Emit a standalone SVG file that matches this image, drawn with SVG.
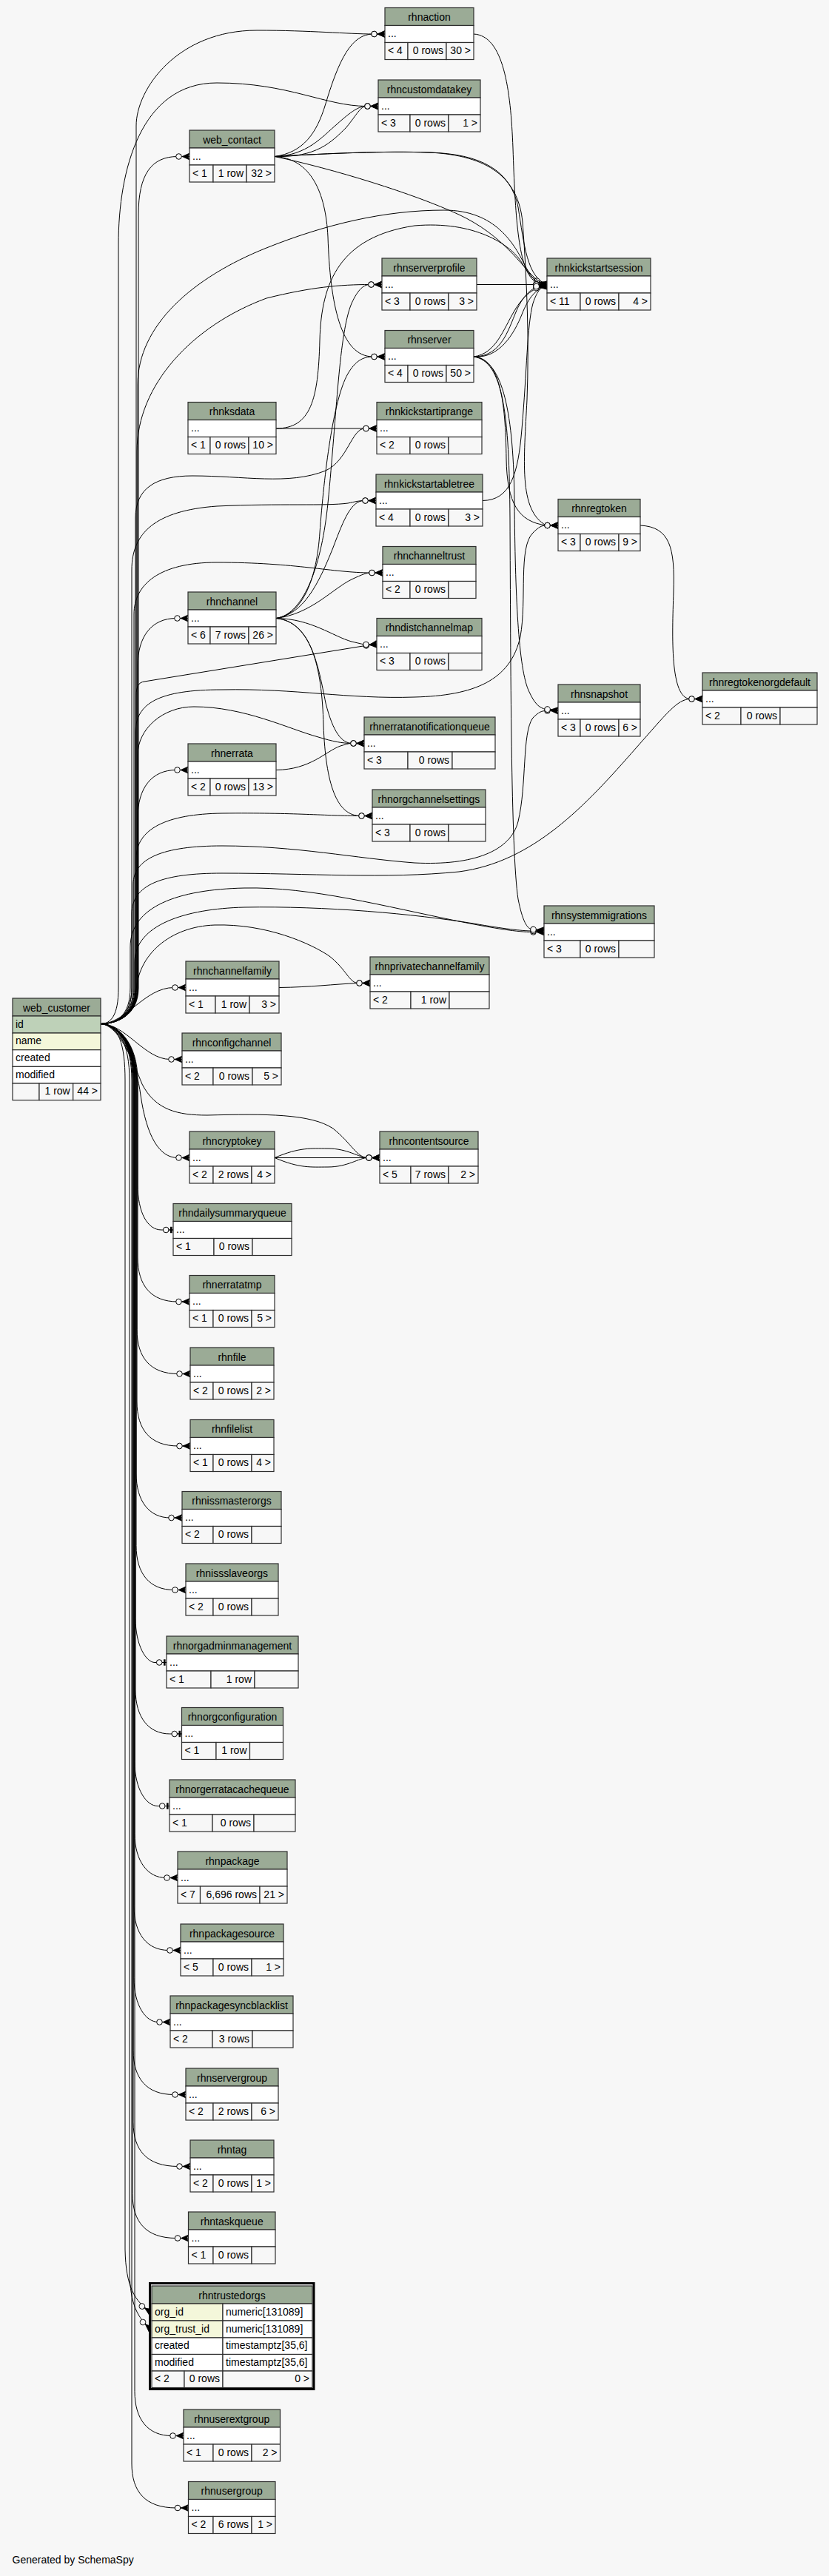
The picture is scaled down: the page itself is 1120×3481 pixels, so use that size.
<svg xmlns="http://www.w3.org/2000/svg" width="1120" height="3481" viewBox="0 0 1120 3481">
<style>
.hd{fill:#9bab96;stroke:#2e2e2e;stroke-width:1.2}
.rw{fill:#ffffff;stroke:#2e2e2e;stroke-width:1.2}
.ft{fill:#f7f7f7;stroke:#2e2e2e;stroke-width:1.2}
.pk{fill:#bed1b8;stroke:#2e2e2e;stroke-width:1.2}
.ix{fill:#f4f7da;stroke:#2e2e2e;stroke-width:1.2}
text{font-family:"Liberation Sans",Arial,Helvetica,sans-serif;font-size:14px;fill:#000}
.c{text-anchor:middle}
.e{text-anchor:end}
#connectors path{fill:none;stroke:#000;stroke-width:1}
#connectors path.co{marker-end:url(#crowodot)}
#connectors path.to{marker-end:url(#teeodot)}
</style>
<defs>
<marker id="crowodot" markerUnits="userSpaceOnUse" markerWidth="22" markerHeight="12" viewBox="0 0 22 12" refX="20" refY="6" orient="auto" overflow="visible">
<path d="M10,6 L20,1.6 L18,6 L20,10.4 Z" fill="#000" stroke="#000" stroke-width="0.8"/>
<path d="M10,6 L20,6" stroke="#000" stroke-width="1"/>
<circle cx="5.5" cy="6" r="3.8" fill="#f7f7f7" stroke="#000" stroke-width="1"/>
</marker>
<marker id="teeodot" markerUnits="userSpaceOnUse" markerWidth="22" markerHeight="12" viewBox="0 0 22 12" refX="20" refY="6" orient="auto" overflow="visible">
<path d="M14,6 L20,6" stroke="#000" stroke-width="1"/>
<rect x="16" y="1.8" width="2.6" height="8.4" fill="#000"/>
<circle cx="10.2" cy="6" r="3.8" fill="#f7f7f7" stroke="#000" stroke-width="1"/>
</marker>
</defs>
<rect x="0" y="0" width="1120" height="3481" fill="#f7f7f7"/>

<g id="connectors">
<!-- web_customer upward -->
<path class="co" d="M136,1383.5 C158,1383.5 184,1372 184,1335 L184,170 C184,120 240,41 347,41 C420,41 470,46 504,46 L520,46"/>
<path class="co" d="M136,1383.5 C150,1383.5 160,1372 160,1335 L160,330 C160,230 190,112 293,112 C390,112 440,143.5 495,143.5 L511,143.5"/>
<path class="co" d="M136,1383.5 C158,1383.5 187,1372 187,1335 L187,290 C187,235 205,211.5 240,211.5 L256,211.5"/>
<path class="co" d="M136,1383.5 C158,1383.5 186,1372 186,1335 L186,520 C186,440 260,375 360,335 C440,303 520,284 600,284 C670,284 695,330 710,360 C718,375 725,384.5 739,384.5"/>
<path class="co" d="M136,1383.5 C158,1383.5 185,1372 185,1335 L185,610 C185,520 260,440 360,403 C420,388 460,384.5 500,384.5 L516,384.5"/>
<path class="co" d="M136,1383.5 C158,1383.5 183,1372 183,1335 L183,700 C183,660 210,643 260,643 C330,643 390,656 440,636 C470,622 475,579 493,579 L509,579"/>
<path class="co" d="M136,1383.5 C158,1383.5 178,1372 178,1335 L178,770 C178,720 210,690 293,684 C380,680 440,684 470,680 C480,678 485,676.5 492,676.5 L508,676.5"/>
<path class="co" d="M136,1383.5 C158,1383.5 181,1372 181,1335 L181,830 C181,790 215,760 293,760 C400,760 450,774 501,774 L517,774"/>
<path class="co" d="M136,1383.5 C158,1383.5 186,1372 186,1335 L186,900 C186,860 205,835.5 238,835.5 L254,835.5"/>
<path class="co" d="M136,1383.5 C158,1383.5 184,1372 184,1335 L184,940 C184,928 187,922 195,921 L509,870"/>
<path class="co" d="M136,1383.5 C158,1383.5 183,1372 183,1335 L183,990 C183,950 215,932 300,932 C400,930 470,945 560,942 C640,940 690,920 703,860 C712,810 700,740 720,720 C728,712 732,710 738,710 L754,710"/>
<path class="co" d="M136,1383.5 C158,1383.5 186,1372 186,1335 L186,1020 C186,985 220,955 262,955 C330,955 390,985 430,996 C450,1002 462,1004.5 476,1004.5 L492,1004.5"/>
<path class="co" d="M136,1383.5 C158,1383.5 186,1372 186,1335 L186,1105 C186,1065 205,1040.5 238,1040.5 L254,1040.5"/>
<path class="co" d="M136,1383.5 C158,1383.5 184,1372 184,1335 L184,1160 C184,1120 225,1100 300,1099 C400,1098 440,1102.5 487,1102.5 L503,1102.5"/>
<path class="co" d="M136,1383.5 C158,1383.5 180,1372 180,1335 L180,1195 C180,1160 220,1143 300,1143 C400,1143 480,1160 560,1166 C640,1170 690,1150 700,1110 C712,1060 705,990 720,970 C728,962 732,960.5 738,960.5 L754,960.5"/>
<path class="co" d="M136,1383.5 C158,1383.5 178,1372 178,1335 L178,1235 C178,1195 220,1180 300,1180 C420,1180 520,1188 620,1178 C720,1165 790,1090 860,1010 C900,965 915,944.5 933,944.5 L949,944.5"/>
<path class="co" d="M136,1383.5 C158,1383.5 176,1372 176,1335 L176,1280 C176,1225 240,1202 330,1200 C420,1198 520,1225 620,1245 C670,1255 700,1259.5 719,1259.5 L735,1259.5"/>
<path class="co" d="M136,1383.5 C158,1383.5 182,1372 182,1335 L182,1300 C182,1250 250,1228 330,1226 C440,1224 560,1235 640,1248 C680,1255 705,1258 719,1258 L735,1258"/>
<path class="co" d="M136,1383.5 C158,1383.5 184,1372 184,1340 C186,1290 230,1252 290,1250 C360,1248 420,1275 445,1292 C468,1310 472,1328.5 484,1328.5 L500,1328.5"/>
<path class="co" d="M136,1383.5 C170,1383.5 195,1334.5 235,1334.5 L251,1334.5"/>
<path class="co" d="M136,1383.5 C170,1383.5 195,1431.5 230,1431.5 L246,1431.5"/>
<path class="co" d="M136,1383.5 C165,1385 185,1440 190,1480 C198,1535 215,1564.5 240,1564.5 L256,1564.5"/>
<path class="co" d="M136,1383.5 C160,1385 178,1430 192,1465 C210,1500 240,1507 280,1507 C360,1505 420,1505 450,1525 C475,1545 482,1564.5 497,1564.5 L513,1564.5"/>
<path class="to" d="M136,1383.5 C160,1385 186,1420 186,1480 L186,1600 C186,1640 200,1662 218,1662 L234,1662"/>
<!-- web_customer downward -->
<path class="co" d="M136,1383.5 C160,1384 186,1410 186,1460 L186,1699 C186,1737 204,1759 240,1759 L256,1759"/>
<path class="co" d="M136,1383.5 C160,1384 185,1410 185,1460 L185,1796.5 C185,1834.5 203,1856.5 241,1856.5 L257,1856.5"/>
<path class="co" d="M136,1383.5 C160,1384 185,1410 185,1460 L185,1894 C185,1932 203,1954 241,1954 L257,1954"/>
<path class="co" d="M136,1383.5 C160,1384 184,1410 184,1460 L184,1991 C184,2029 202,2051 230,2051 L246,2051"/>
<path class="co" d="M136,1383.5 C160,1384 184,1410 184,1460 L184,2088.5 C184,2126.5 202,2148.5 235,2148.5 L251,2148.5"/>
<path class="to" d="M136,1383.5 C160,1384 183,1410 183,1460 L183,2186.5 C183,2224.5 198,2246.5 209,2246.5 L225,2246.5"/>
<path class="to" d="M136,1383.5 C160,1384 183,1410 183,1460 L183,2283 C183,2321 201,2343 229.5,2343 L245.5,2343"/>
<path class="to" d="M136,1383.5 C160,1384 182,1410 182,1460 L182,2380.5 C182,2418.5 198,2440.5 213,2440.5 L229,2440.5"/>
<path class="co" d="M136,1383.5 C160,1384 182,1410 182,1460 L182,2477.5 C182,2515.5 200,2537.5 224,2537.5 L240,2537.5"/>
<path class="co" d="M136,1383.5 C160,1384 181,1410 181,1460 L181,2575.5 C181,2613.5 199,2635.5 228,2635.5 L244,2635.5"/>
<path class="co" d="M136,1383.5 C160,1384 181,1410 181,1460 L181,2672.5 C181,2710.5 197,2732.5 214,2732.5 L230,2732.5"/>
<path class="co" d="M136,1383.5 C160,1384 180,1410 180,1460 L180,2770.5 C180,2808.5 198,2830.5 235,2830.5 L251,2830.5"/>
<path class="co" d="M136,1383.5 C160,1384 180,1410 180,1460 L180,2867.5 C180,2905.5 198,2927.5 241,2927.5 L257,2927.5"/>
<path class="co" d="M136,1383.5 C160,1384 179,1410 179,1460 L179,2964.5 C179,3002.5 197,3024.5 238.5,3024.5 L254.5,3024.5"/>
<path class="co" d="M136,1383.5 C160,1384 169,1410 169,1460 L169,3040 C170,3090 182,3110 204,3124.5"/>
<path class="co" d="M136,1383.5 C160,1384 175,1410 175,1460 L175,3070 C176,3115 186,3132 204,3147.5"/>
<path class="co" d="M136,1383.5 C160,1384 182,1410 182,1460 L182,3231.5 C182,3269.5 200,3291.5 232,3291.5 L248,3291.5"/>
<path class="co" d="M136,1383.5 C160,1384 178,1410 178,1460 L178,3329 C178,3367 196,3389 238.5,3389 L254.5,3389"/>
<!-- web_contact -->
<path class="co" d="M371,211.5 C410,206 428,180 440,140 C458,80 475,46 504,46 L520,46"/>
<path class="co" d="M371,211.5 C415,210 435,185 455,168 C475,150 485,143.5 495,143.5 L511,143.5"/>
<path class="co" d="M371,211.5 C428,213 448,192 468,172 C482,155 487,143.5 495,143.5 L511,143.5"/>
<path class="co" d="M371,211.5 C450,207 520,204 580,206 C650,208 690,230 700,280 C708,330 712,375 739,384.5"/>
<path class="co" d="M371,211.5 C450,207 520,204 580,206 C660,210 700,240 706,300 C712,380 715,460 712,540 C708,620 700,690 738,710 L754,710"/>
<path class="co" d="M371,211.5 C450,228 560,262 620,290 C680,318 705,360 723,376 C730,382 735,384.5 739,384.5"/>
<path class="co" d="M371,211.5 C420,214 440,260 443,320 C446,410 460,482 504,482 L520,482"/>
<!-- rhnaction, rhnserverprofile, rhnserver -->
<path class="co" d="M640,46 C680,48 690,120 693,200 C696,290 700,360 720,378 C728,383 733,384.5 739,384.5"/>
<path class="co" d="M644,384.5 L739,384.5"/>
<path class="co" d="M640,482 C680,482 688,440 700,415 C710,395 722,386 739,384.5"/>
<path class="co" d="M640,482 C670,478 680,445 695,420 C708,398 722,388 739,386"/>
<path class="co" d="M640,482 C675,485 695,450 705,425 C714,402 725,389 739,387"/>
<path class="co" d="M640,482 C675,484 683,540 684,620 C685,680 700,705 738,710 L754,710"/>
<path class="co" d="M640,482 C680,486 694,560 695,680 C696,800 700,905 715,935 C722,950 728,957 738,958.5 L754,960"/>
<path class="co" d="M640,482 C680,488 688,560 689,700 C690,900 690,1150 700,1215 C706,1245 712,1255 719,1256 L735,1257"/>
<!-- rhnksdata, abletree -->
<path class="co" d="M373,579 L509,579"/>
<path class="co" d="M373,579 C420,579 430,540 432,460 C434,380 460,320 560,305 C640,298 690,330 705,355 C715,372 725,384.5 739,384.5"/>
<path class="co" d="M652,676.5 C690,676 700,640 705,580 C712,500 712,440 720,410 C726,392 732,386 739,385"/>
<!-- rhnchannel -->
<path class="co" d="M373,835.5 C410,830 430,790 450,740 C465,700 475,676.5 492,676.5 L508,676.5"/>
<path class="co" d="M373,835.5 C420,830 450,795 475,783 C490,776 495,774 501,774 L517,774"/>
<path class="co" d="M373,835.5 C420,836 450,860 475,867 C488,870 492,871 493,871 L509,871"/>
<path class="co" d="M373,835.5 C420,840 430,900 440,950 C450,990 462,1004.5 476,1004.5 L492,1004.5"/>
<path class="co" d="M373,835.5 C420,840 435,900 437,980 C440,1060 455,1102.5 487,1102.5 L503,1102.5"/>
<path class="co" d="M373,835.5 C410,830 428,780 432,720 C438,640 450,540 470,505 C480,488 490,482 504,482 L520,482"/>
<path class="co" d="M373,835.5 C412,830 435,760 443,680 C455,560 458,450 475,410 C484,390 492,384.5 500,384.5 L516,384.5"/>
<!-- others -->
<path class="co" d="M373,1040.5 C420,1040 440,1015 460,1008 C470,1005 472,1004.5 476,1004.5 L492,1004.5"/>
<path class="co" d="M865,710 C905,712 912,740 910,800 C908,860 905,944.5 933,944.5 L949,944.5"/>
<path class="co" d="M377,1334.5 C420,1334 450,1330 484,1328.5 L500,1328.5"/>
<path class="co" d="M371,1564.5 L513,1564.5"/>
<path class="co" d="M371,1564.5 C405,1550 420,1552 443,1552 C470,1552 485,1564.5 497,1564.5 L513,1564.5"/>
<path class="co" d="M371,1564.5 C405,1579 420,1577 443,1577 C470,1577 485,1564.5 497,1564.5 L513,1564.5"/>
</g>

<g id="rhnaction"><rect class="hd" x="520" y="10.5" width="120" height="24"/><rect class="rw" x="520" y="34.5" width="120" height="23"/><rect class="ft" x="520" y="57.5" width="31" height="23"/><rect class="ft" x="551" y="57.5" width="52" height="23"/><rect class="ft" x="603" y="57.5" width="37" height="23"/><text class="c" x="580" y="28">rhnaction</text><text x="524" y="50">...</text><text x="524" y="73">&lt; 4</text><text class="e" x="599" y="73">0 rows</text><text class="e" x="636" y="73">30 &gt;</text></g>

<g id="rhncustomdatakey"><rect class="hd" x="511" y="108" width="138" height="24"/><rect class="rw" x="511" y="132" width="138" height="23"/><rect class="ft" x="511" y="155" width="43" height="23"/><rect class="ft" x="554" y="155" width="52" height="23"/><rect class="ft" x="606" y="155" width="43" height="23"/><text class="c" x="580" y="125.5">rhncustomdatakey</text><text x="515" y="147.5">...</text><text x="515" y="170.5">&lt; 3</text><text class="e" x="602" y="170.5">0 rows</text><text class="e" x="645" y="170.5">1 &gt;</text></g>

<g id="web_contact"><rect class="hd" x="256" y="176" width="115" height="24"/><rect class="rw" x="256" y="200" width="115" height="23"/><rect class="ft" x="256" y="223" width="32" height="23"/><rect class="ft" x="288" y="223" width="45" height="23"/><rect class="ft" x="333" y="223" width="38" height="23"/><text class="c" x="313.5" y="193.5">web_contact</text><text x="260" y="215.5">...</text><text x="260" y="238.5">&lt; 1</text><text class="e" x="329" y="238.5">1 row</text><text class="e" x="367" y="238.5">32 &gt;</text></g>

<g id="rhnserverprofile"><rect class="hd" x="516" y="349" width="128" height="24"/><rect class="rw" x="516" y="373" width="128" height="23"/><rect class="ft" x="516" y="396" width="38" height="23"/><rect class="ft" x="554" y="396" width="52" height="23"/><rect class="ft" x="606" y="396" width="38" height="23"/><text class="c" x="580" y="366.5">rhnserverprofile</text><text x="520" y="388.5">...</text><text x="520" y="411.5">&lt; 3</text><text class="e" x="602" y="411.5">0 rows</text><text class="e" x="640" y="411.5">3 &gt;</text></g>

<g id="rhnkickstartsession"><rect class="hd" x="739" y="349" width="140" height="24"/><rect class="rw" x="739" y="373" width="140" height="23"/><rect class="ft" x="739" y="396" width="45" height="23"/><rect class="ft" x="784" y="396" width="52" height="23"/><rect class="ft" x="836" y="396" width="43" height="23"/><text class="c" x="809" y="366.5">rhnkickstartsession</text><text x="743" y="388.5">...</text><text x="743" y="411.5">&lt; 11</text><text class="e" x="832" y="411.5">0 rows</text><text class="e" x="875" y="411.5">4 &gt;</text></g>

<g id="rhnserver"><rect class="hd" x="520" y="446.5" width="120" height="24"/><rect class="rw" x="520" y="470.5" width="120" height="23"/><rect class="ft" x="520" y="493.5" width="31" height="23"/><rect class="ft" x="551" y="493.5" width="52" height="23"/><rect class="ft" x="603" y="493.5" width="37" height="23"/><text class="c" x="580" y="464">rhnserver</text><text x="524" y="486">...</text><text x="524" y="509">&lt; 4</text><text class="e" x="599" y="509">0 rows</text><text class="e" x="636" y="509">50 &gt;</text></g>

<g id="rhnksdata"><rect class="hd" x="254" y="543.5" width="119" height="24"/><rect class="rw" x="254" y="567.5" width="119" height="23"/><rect class="ft" x="254" y="590.5" width="30" height="23"/><rect class="ft" x="284" y="590.5" width="52" height="23"/><rect class="ft" x="336" y="590.5" width="37" height="23"/><text class="c" x="313.5" y="561">rhnksdata</text><text x="258" y="583">...</text><text x="258" y="606">&lt; 1</text><text class="e" x="332" y="606">0 rows</text><text class="e" x="369" y="606">10 &gt;</text></g>

<g id="rhnkickstartiprange"><rect class="hd" x="509" y="543.5" width="142" height="24"/><rect class="rw" x="509" y="567.5" width="142" height="23"/><rect class="ft" x="509" y="590.5" width="45" height="23"/><rect class="ft" x="554" y="590.5" width="52" height="23"/><rect class="ft" x="606" y="590.5" width="45" height="23"/><text class="c" x="580" y="561">rhnkickstartiprange</text><text x="513" y="583">...</text><text x="513" y="606">&lt; 2</text><text class="e" x="602" y="606">0 rows</text></g>

<g id="rhnkickstartabletree"><rect class="hd" x="508" y="641" width="144" height="24"/><rect class="rw" x="508" y="665" width="144" height="23"/><rect class="ft" x="508" y="688" width="46" height="23"/><rect class="ft" x="554" y="688" width="52" height="23"/><rect class="ft" x="606" y="688" width="46" height="23"/><text class="c" x="580" y="658.5">rhnkickstartabletree</text><text x="512" y="680.5">...</text><text x="512" y="703.5">&lt; 4</text><text class="e" x="602" y="703.5">0 rows</text><text class="e" x="648" y="703.5">3 &gt;</text></g>

<g id="rhnregtoken"><rect class="hd" x="754" y="674.5" width="111" height="24"/><rect class="rw" x="754" y="698.5" width="111" height="23"/><rect class="ft" x="754" y="721.5" width="30" height="23"/><rect class="ft" x="784" y="721.5" width="52" height="23"/><rect class="ft" x="836" y="721.5" width="29" height="23"/><text class="c" x="809.5" y="692">rhnregtoken</text><text x="758" y="714">...</text><text x="758" y="737">&lt; 3</text><text class="e" x="832" y="737">0 rows</text><text class="e" x="861" y="737">9 &gt;</text></g>

<g id="rhnchanneltrust"><rect class="hd" x="517" y="738.5" width="126" height="24"/><rect class="rw" x="517" y="762.5" width="126" height="23"/><rect class="ft" x="517" y="785.5" width="37" height="23"/><rect class="ft" x="554" y="785.5" width="52" height="23"/><rect class="ft" x="606" y="785.5" width="37" height="23"/><text class="c" x="580" y="756">rhnchanneltrust</text><text x="521" y="778">...</text><text x="521" y="801">&lt; 2</text><text class="e" x="602" y="801">0 rows</text></g>

<g id="rhnchannel"><rect class="hd" x="254" y="800" width="119" height="24"/><rect class="rw" x="254" y="824" width="119" height="23"/><rect class="ft" x="254" y="847" width="30" height="23"/><rect class="ft" x="284" y="847" width="52" height="23"/><rect class="ft" x="336" y="847" width="37" height="23"/><text class="c" x="313.5" y="817.5">rhnchannel</text><text x="258" y="839.5">...</text><text x="258" y="862.5">&lt; 6</text><text class="e" x="332" y="862.5">7 rows</text><text class="e" x="369" y="862.5">26 &gt;</text></g>

<g id="rhndistchannelmap"><rect class="hd" x="509" y="835.5" width="142" height="24"/><rect class="rw" x="509" y="859.5" width="142" height="23"/><rect class="ft" x="509" y="882.5" width="45" height="23"/><rect class="ft" x="554" y="882.5" width="52" height="23"/><rect class="ft" x="606" y="882.5" width="45" height="23"/><text class="c" x="580" y="853">rhndistchannelmap</text><text x="513" y="875">...</text><text x="513" y="898">&lt; 3</text><text class="e" x="602" y="898">0 rows</text></g>

<g id="rhnregtokenorgdefault"><rect class="hd" x="949" y="909" width="155" height="24"/><rect class="rw" x="949" y="933" width="155" height="23"/><rect class="ft" x="949" y="956" width="52" height="23"/><rect class="ft" x="1001" y="956" width="53" height="23"/><rect class="ft" x="1054" y="956" width="50" height="23"/><text class="c" x="1026.5" y="926.5">rhnregtokenorgdefault</text><text x="953" y="948.5">...</text><text x="953" y="971.5">&lt; 2</text><text class="e" x="1050" y="971.5">0 rows</text></g>

<g id="rhnsnapshot"><rect class="hd" x="754" y="925" width="111" height="24"/><rect class="rw" x="754" y="949" width="111" height="23"/><rect class="ft" x="754" y="972" width="30" height="23"/><rect class="ft" x="784" y="972" width="52" height="23"/><rect class="ft" x="836" y="972" width="29" height="23"/><text class="c" x="809.5" y="942.5">rhnsnapshot</text><text x="758" y="964.5">...</text><text x="758" y="987.5">&lt; 3</text><text class="e" x="832" y="987.5">0 rows</text><text class="e" x="861" y="987.5">6 &gt;</text></g>

<g id="rhnerratanotificationqueue"><rect class="hd" x="492" y="969" width="177" height="24"/><rect class="rw" x="492" y="993" width="177" height="23"/><rect class="ft" x="492" y="1016" width="59" height="23"/><rect class="ft" x="551" y="1016" width="60" height="23"/><rect class="ft" x="611" y="1016" width="58" height="23"/><text class="c" x="580.5" y="986.5">rhnerratanotificationqueue</text><text x="496" y="1008.5">...</text><text x="496" y="1031.5">&lt; 3</text><text class="e" x="607" y="1031.5">0 rows</text></g>

<g id="rhnerrata"><rect class="hd" x="254" y="1005" width="119" height="24"/><rect class="rw" x="254" y="1029" width="119" height="23"/><rect class="ft" x="254" y="1052" width="30" height="23"/><rect class="ft" x="284" y="1052" width="52" height="23"/><rect class="ft" x="336" y="1052" width="37" height="23"/><text class="c" x="313.5" y="1022.5">rhnerrata</text><text x="258" y="1044.5">...</text><text x="258" y="1067.5">&lt; 2</text><text class="e" x="332" y="1067.5">0 rows</text><text class="e" x="369" y="1067.5">13 &gt;</text></g>

<g id="rhnorgchannelsettings"><rect class="hd" x="503" y="1067" width="153" height="24"/><rect class="rw" x="503" y="1091" width="153" height="23"/><rect class="ft" x="503" y="1114" width="51" height="23"/><rect class="ft" x="554" y="1114" width="52" height="23"/><rect class="ft" x="606" y="1114" width="50" height="23"/><text class="c" x="579.5" y="1084.5">rhnorgchannelsettings</text><text x="507" y="1106.5">...</text><text x="507" y="1129.5">&lt; 3</text><text class="e" x="602" y="1129.5">0 rows</text></g>

<g id="rhnsystemmigrations"><rect class="hd" x="735" y="1224" width="149" height="24"/><rect class="rw" x="735" y="1248" width="149" height="23"/><rect class="ft" x="735" y="1271" width="49" height="23"/><rect class="ft" x="784" y="1271" width="52" height="23"/><rect class="ft" x="836" y="1271" width="48" height="23"/><text class="c" x="809.5" y="1241.5">rhnsystemmigrations</text><text x="739" y="1263.5">...</text><text x="739" y="1286.5">&lt; 3</text><text class="e" x="832" y="1286.5">0 rows</text></g>

<g id="rhnchannelfamily"><rect class="hd" x="251" y="1299" width="126" height="24"/><rect class="rw" x="251" y="1323" width="126" height="23"/><rect class="ft" x="251" y="1346" width="40" height="23"/><rect class="ft" x="291" y="1346" width="46" height="23"/><rect class="ft" x="337" y="1346" width="40" height="23"/><text class="c" x="314" y="1316.5">rhnchannelfamily</text><text x="255" y="1338.5">...</text><text x="255" y="1361.5">&lt; 1</text><text class="e" x="333" y="1361.5">1 row</text><text class="e" x="373" y="1361.5">3 &gt;</text></g>

<g id="rhnprivatechannelfamily"><rect class="hd" x="500" y="1293" width="161" height="24"/><rect class="rw" x="500" y="1317" width="161" height="23"/><rect class="ft" x="500" y="1340" width="55" height="23"/><rect class="ft" x="555" y="1340" width="52" height="23"/><rect class="ft" x="607" y="1340" width="54" height="23"/><text class="c" x="580.5" y="1310.5">rhnprivatechannelfamily</text><text x="504" y="1332.5">...</text><text x="504" y="1355.5">&lt; 2</text><text class="e" x="603" y="1355.5">1 row</text></g>

<g id="web_customer"><rect class="hd" x="17" y="1349" width="119" height="24"/><rect class="pk" x="17" y="1373" width="119" height="23"/><rect class="ix" x="17" y="1396" width="119" height="22.7"/><rect class="rw" x="17" y="1418.7" width="119" height="22.7"/><rect class="rw" x="17" y="1441.4" width="119" height="22.6"/><rect class="ft" x="17" y="1464" width="36" height="22.7"/><rect class="ft" x="53" y="1464" width="45.7" height="22.7"/><rect class="ft" x="98.7" y="1464" width="37.3" height="22.7"/><text class="c" x="76.5" y="1366.5">web_customer</text><text x="21" y="1388.5">id</text><text x="21" y="1411.2">name</text><text x="21" y="1433.9">created</text><text x="21" y="1456.6">modified</text><text class="e" x="94.7" y="1479.3">1 row</text><text class="e" x="132" y="1479.3">44 &gt;</text></g>

<g id="rhnconfigchannel"><rect class="hd" x="246" y="1396" width="134" height="24"/><rect class="rw" x="246" y="1420" width="134" height="23"/><rect class="ft" x="246" y="1443" width="42" height="23"/><rect class="ft" x="288" y="1443" width="53" height="23"/><rect class="ft" x="341" y="1443" width="39" height="23"/><text class="c" x="313" y="1413.5">rhnconfigchannel</text><text x="250" y="1435.5">...</text><text x="250" y="1458.5">&lt; 2</text><text class="e" x="337" y="1458.5">0 rows</text><text class="e" x="376" y="1458.5">5 &gt;</text></g>

<g id="rhncryptokey"><rect class="hd" x="256" y="1529" width="115" height="24"/><rect class="rw" x="256" y="1553" width="115" height="23"/><rect class="ft" x="256" y="1576" width="32" height="23"/><rect class="ft" x="288" y="1576" width="52" height="23"/><rect class="ft" x="340" y="1576" width="31" height="23"/><text class="c" x="313.5" y="1546.5">rhncryptokey</text><text x="260" y="1568.5">...</text><text x="260" y="1591.5">&lt; 2</text><text class="e" x="336" y="1591.5">2 rows</text><text class="e" x="367" y="1591.5">4 &gt;</text></g>

<g id="rhncontentsource"><rect class="hd" x="513" y="1529" width="133" height="24"/><rect class="rw" x="513" y="1553" width="133" height="23"/><rect class="ft" x="513" y="1576" width="42" height="23"/><rect class="ft" x="555" y="1576" width="51" height="23"/><rect class="ft" x="606" y="1576" width="40" height="23"/><text class="c" x="579.5" y="1546.5">rhncontentsource</text><text x="517" y="1568.5">...</text><text x="517" y="1591.5">&lt; 5</text><text class="e" x="602" y="1591.5">7 rows</text><text class="e" x="642" y="1591.5">2 &gt;</text></g>

<g id="rhndailysummaryqueue"><rect class="hd" x="234" y="1626.5" width="160" height="24"/><rect class="rw" x="234" y="1650.5" width="160" height="23"/><rect class="ft" x="234" y="1673.5" width="55" height="23"/><rect class="ft" x="289" y="1673.5" width="52" height="23"/><rect class="ft" x="341" y="1673.5" width="53" height="23"/><text class="c" x="314" y="1644">rhndailysummaryqueue</text><text x="238" y="1666">...</text><text x="238" y="1689">&lt; 1</text><text class="e" x="337" y="1689">0 rows</text></g>

<g id="rhnerratatmp"><rect class="hd" x="256" y="1723.5" width="115" height="24"/><rect class="rw" x="256" y="1747.5" width="115" height="23"/><rect class="ft" x="256" y="1770.5" width="32" height="23"/><rect class="ft" x="288" y="1770.5" width="52" height="23"/><rect class="ft" x="340" y="1770.5" width="31" height="23"/><text class="c" x="313.5" y="1741">rhnerratatmp</text><text x="260" y="1763">...</text><text x="260" y="1786">&lt; 1</text><text class="e" x="336" y="1786">0 rows</text><text class="e" x="367" y="1786">5 &gt;</text></g>

<g id="rhnfile"><rect class="hd" x="257" y="1821" width="113" height="24"/><rect class="rw" x="257" y="1845" width="113" height="23"/><rect class="ft" x="257" y="1868" width="31" height="23"/><rect class="ft" x="288" y="1868" width="52" height="23"/><rect class="ft" x="340" y="1868" width="30" height="23"/><text class="c" x="313.5" y="1838.5">rhnfile</text><text x="261" y="1860.5">...</text><text x="261" y="1883.5">&lt; 2</text><text class="e" x="336" y="1883.5">0 rows</text><text class="e" x="366" y="1883.5">2 &gt;</text></g>

<g id="rhnfilelist"><rect class="hd" x="257" y="1918.5" width="113" height="24"/><rect class="rw" x="257" y="1942.5" width="113" height="23"/><rect class="ft" x="257" y="1965.5" width="31" height="23"/><rect class="ft" x="288" y="1965.5" width="52" height="23"/><rect class="ft" x="340" y="1965.5" width="30" height="23"/><text class="c" x="313.5" y="1936">rhnfilelist</text><text x="261" y="1958">...</text><text x="261" y="1981">&lt; 1</text><text class="e" x="336" y="1981">0 rows</text><text class="e" x="366" y="1981">4 &gt;</text></g>

<g id="rhnissmasterorgs"><rect class="hd" x="246" y="2015.5" width="134" height="24"/><rect class="rw" x="246" y="2039.5" width="134" height="23"/><rect class="ft" x="246" y="2062.5" width="42" height="23"/><rect class="ft" x="288" y="2062.5" width="52" height="23"/><rect class="ft" x="340" y="2062.5" width="40" height="23"/><text class="c" x="313" y="2033">rhnissmasterorgs</text><text x="250" y="2055">...</text><text x="250" y="2078">&lt; 2</text><text class="e" x="336" y="2078">0 rows</text></g>

<g id="rhnissslaveorgs"><rect class="hd" x="251" y="2113" width="125" height="24"/><rect class="rw" x="251" y="2137" width="125" height="23"/><rect class="ft" x="251" y="2160" width="37" height="23"/><rect class="ft" x="288" y="2160" width="52" height="23"/><rect class="ft" x="340" y="2160" width="36" height="23"/><text class="c" x="313.5" y="2130.5">rhnissslaveorgs</text><text x="255" y="2152.5">...</text><text x="255" y="2175.5">&lt; 2</text><text class="e" x="336" y="2175.5">0 rows</text></g>

<g id="rhnorgadminmanagement"><rect class="hd" x="225" y="2211" width="178" height="24"/><rect class="rw" x="225" y="2235" width="178" height="23"/><rect class="ft" x="225" y="2258" width="60" height="23"/><rect class="ft" x="285" y="2258" width="59" height="23"/><rect class="ft" x="344" y="2258" width="59" height="23"/><text class="c" x="314" y="2228.5">rhnorgadminmanagement</text><text x="229" y="2250.5">...</text><text x="229" y="2273.5">&lt; 1</text><text class="e" x="340" y="2273.5">1 row</text></g>

<g id="rhnorgconfiguration"><rect class="hd" x="245.5" y="2307.5" width="137" height="24"/><rect class="rw" x="245.5" y="2331.5" width="137" height="23"/><rect class="ft" x="245.5" y="2354.5" width="46.5" height="23"/><rect class="ft" x="292" y="2354.5" width="45.5" height="23"/><rect class="ft" x="337.5" y="2354.5" width="45" height="23"/><text class="c" x="314" y="2325">rhnorgconfiguration</text><text x="249.5" y="2347">...</text><text x="249.5" y="2370">&lt; 1</text><text class="e" x="333.5" y="2370">1 row</text></g>

<g id="rhnorgerratacachequeue"><rect class="hd" x="229" y="2405" width="170" height="24"/><rect class="rw" x="229" y="2429" width="170" height="23"/><rect class="ft" x="229" y="2452" width="58" height="23"/><rect class="ft" x="287" y="2452" width="56" height="23"/><rect class="ft" x="343" y="2452" width="56" height="23"/><text class="c" x="314" y="2422.5">rhnorgerratacachequeue</text><text x="233" y="2444.5">...</text><text x="233" y="2467.5">&lt; 1</text><text class="e" x="339" y="2467.5">0 rows</text></g>

<g id="rhnpackage"><rect class="hd" x="240" y="2502" width="148" height="24"/><rect class="rw" x="240" y="2526" width="148" height="23"/><rect class="ft" x="240" y="2549" width="30.5" height="23"/><rect class="ft" x="270.5" y="2549" width="80.5" height="23"/><rect class="ft" x="351" y="2549" width="37" height="23"/><text class="c" x="314" y="2519.5">rhnpackage</text><text x="244" y="2541.5">...</text><text x="244" y="2564.5">&lt; 7</text><text class="e" x="347" y="2564.5">6,696 rows</text><text class="e" x="384" y="2564.5">21 &gt;</text></g>

<g id="rhnpackagesource"><rect class="hd" x="244" y="2600" width="139" height="24"/><rect class="rw" x="244" y="2624" width="139" height="23"/><rect class="ft" x="244" y="2647" width="44" height="23"/><rect class="ft" x="288" y="2647" width="52" height="23"/><rect class="ft" x="340" y="2647" width="43" height="23"/><text class="c" x="313.5" y="2617.5">rhnpackagesource</text><text x="248" y="2639.5">...</text><text x="248" y="2662.5">&lt; 5</text><text class="e" x="336" y="2662.5">0 rows</text><text class="e" x="379" y="2662.5">1 &gt;</text></g>

<g id="rhnpackagesyncblacklist"><rect class="hd" x="230" y="2697" width="166" height="24"/><rect class="rw" x="230" y="2721" width="166" height="23"/><rect class="ft" x="230" y="2744" width="57" height="23"/><rect class="ft" x="287" y="2744" width="54" height="23"/><rect class="ft" x="341" y="2744" width="55" height="23"/><text class="c" x="313" y="2714.5">rhnpackagesyncblacklist</text><text x="234" y="2736.5">...</text><text x="234" y="2759.5">&lt; 2</text><text class="e" x="337" y="2759.5">3 rows</text></g>

<g id="rhnservergroup"><rect class="hd" x="251" y="2795" width="125" height="24"/><rect class="rw" x="251" y="2819" width="125" height="23"/><rect class="ft" x="251" y="2842" width="37" height="23"/><rect class="ft" x="288" y="2842" width="52" height="23"/><rect class="ft" x="340" y="2842" width="36" height="23"/><text class="c" x="313.5" y="2812.5">rhnservergroup</text><text x="255" y="2834.5">...</text><text x="255" y="2857.5">&lt; 2</text><text class="e" x="336" y="2857.5">2 rows</text><text class="e" x="372" y="2857.5">6 &gt;</text></g>

<g id="rhntag"><rect class="hd" x="257" y="2892" width="113" height="24"/><rect class="rw" x="257" y="2916" width="113" height="23"/><rect class="ft" x="257" y="2939" width="31" height="23"/><rect class="ft" x="288" y="2939" width="52" height="23"/><rect class="ft" x="340" y="2939" width="30" height="23"/><text class="c" x="313.5" y="2909.5">rhntag</text><text x="261" y="2931.5">...</text><text x="261" y="2954.5">&lt; 2</text><text class="e" x="336" y="2954.5">0 rows</text><text class="e" x="366" y="2954.5">1 &gt;</text></g>

<g id="rhntaskqueue"><rect class="hd" x="254.5" y="2989" width="117.5" height="24"/><rect class="rw" x="254.5" y="3013" width="117.5" height="23"/><rect class="ft" x="254.5" y="3036" width="33.5" height="23"/><rect class="ft" x="288" y="3036" width="52" height="23"/><rect class="ft" x="340" y="3036" width="32" height="23"/><text class="c" x="313.25" y="3006.5">rhntaskqueue</text><text x="258.5" y="3028.5">...</text><text x="258.5" y="3051.5">&lt; 1</text><text class="e" x="336" y="3051.5">0 rows</text></g>

<g id="rhntrustedorgs"><rect x="202.5" y="3085.5" width="221.5" height="143" fill="#ffffff" stroke="#000" stroke-width="3"/><rect class="hd" x="205" y="3089" width="217" height="24"/><rect class="ix" x="205" y="3113" width="96" height="23"/><rect class="rw" x="301" y="3113" width="121" height="23"/><rect class="ix" x="205" y="3136" width="96" height="23"/><rect class="rw" x="301" y="3136" width="121" height="23"/><rect class="rw" x="205" y="3159" width="96" height="22.5"/><rect class="rw" x="301" y="3159" width="121" height="22.5"/><rect class="rw" x="205" y="3181.5" width="96" height="22.5"/><rect class="rw" x="301" y="3181.5" width="121" height="22.5"/><rect class="ft" x="205" y="3204" width="44" height="22.5"/><rect class="ft" x="249" y="3204" width="52" height="22.5"/><rect class="ft" x="301" y="3204" width="121" height="22.5"/><text class="c" x="313.5" y="3106.5">rhntrustedorgs</text><text x="209" y="3128.5">org_id</text><text x="305" y="3128.5">numeric[131089]</text><text x="209" y="3151.5">org_trust_id</text><text x="305" y="3151.5">numeric[131089]</text><text x="209" y="3174">created</text><text x="305" y="3174">timestamptz[35,6]</text><text x="209" y="3196.5">modified</text><text x="305" y="3196.5">timestamptz[35,6]</text><text x="209" y="3219">&lt; 2</text><text class="e" x="297" y="3219">0 rows</text><text class="e" x="418" y="3219">0 &gt;</text></g>

<g id="rhnuserextgroup"><rect class="hd" x="248" y="3256" width="130.5" height="24"/><rect class="rw" x="248" y="3280" width="130.5" height="23"/><rect class="ft" x="248" y="3303" width="40" height="23"/><rect class="ft" x="288" y="3303" width="52" height="23"/><rect class="ft" x="340" y="3303" width="38.5" height="23"/><text class="c" x="313.25" y="3273.5">rhnuserextgroup</text><text x="252" y="3295.5">...</text><text x="252" y="3318.5">&lt; 1</text><text class="e" x="336" y="3318.5">0 rows</text><text class="e" x="374.5" y="3318.5">2 &gt;</text></g>

<g id="rhnusergroup"><rect class="hd" x="254.5" y="3353.5" width="117.5" height="24"/><rect class="rw" x="254.5" y="3377.5" width="117.5" height="23"/><rect class="ft" x="254.5" y="3400.5" width="33.5" height="23"/><rect class="ft" x="288" y="3400.5" width="52" height="23"/><rect class="ft" x="340" y="3400.5" width="32" height="23"/><text class="c" x="313.25" y="3371">rhnusergroup</text><text x="258.5" y="3393">...</text><text x="258.5" y="3416">&lt; 2</text><text class="e" x="336" y="3416">6 rows</text><text class="e" x="368" y="3416">1 &gt;</text></g>

<text x="16.5" y="3464">Generated by SchemaSpy</text>
</svg>
